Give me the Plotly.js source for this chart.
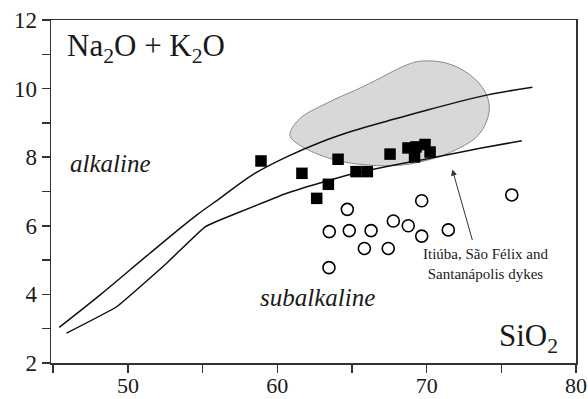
<!DOCTYPE html>
<html>
<head>
<meta charset="utf-8">
<script src="https://cdn.plot.ly/plotly-3.0.1.min.js"></script>
<style>html,body{margin:0;padding:0;background:#fff;}#chart{width:588px;height:399px;}</style>
</head>
<body>
<div id="chart"></div>
<script>
// Filled squares: Itiúba, São Félix and Santanápolis dykes samples
const squareSiO2 = [58.91, 61.65, 64.07, 63.42, 62.64, 65.27, 66.03, 67.55, 68.75, 69.29, 69.89, 69.19, 70.23];
const squareAlk  = [7.89, 7.53, 7.94, 7.21, 6.80, 7.58, 7.58, 8.09, 8.27, 8.30, 8.37, 8.01, 8.15];
// Open circles
const circleSiO2 = [64.69, 63.48, 64.82, 66.28, 67.77, 68.77, 69.67, 69.67, 71.45, 65.83, 67.43, 63.46, 75.70];
const circleAlk  = [6.48, 5.83, 5.86, 5.86, 6.14, 6.00, 6.73, 5.70, 5.88, 5.34, 5.34, 4.78, 6.90];
// Upper boundary curve
const upperSiO2 = [45.40, 48.12, 51.47, 54.60, 56.16, 58.39, 60.63, 62.86, 65.09, 67.33, 69.56, 74.03, 77.08];
const upperAlk  = [3.04, 3.98, 5.20, 6.31, 6.80, 7.50, 8.01, 8.43, 8.77, 9.05, 9.32, 9.81, 10.04];
// Lower boundary curve
const lowerSiO2 = [45.89, 49.24, 52.59, 55.16, 56.16, 58.39, 60.63, 62.86, 65.09, 67.33, 69.56, 73.58, 76.37];
const lowerAlk  = [2.87, 3.64, 4.91, 5.97, 6.17, 6.56, 6.95, 7.25, 7.52, 7.73, 7.91, 8.26, 8.48];
// Grey field outline
const fieldSiO2 = [60.85, 61.52, 63.53, 65.76, 68.67, 69.56, 71.35, 72.91, 73.91, 74.20, 73.91, 73.24, 71.68, 70.11, 68.33, 66.10, 63.87, 61.86, 60.92, 60.85];
const fieldAlk  = [8.70, 9.13, 9.62, 10.06, 10.69, 10.80, 10.74, 10.40, 9.91, 9.43, 8.94, 8.55, 8.16, 7.92, 7.77, 7.77, 7.92, 8.26, 8.56, 8.70];
// Tick labels
const xTicks = [50, 60, 70, 80];
const yTicks = [2, 4, 6, 8, 10, 12];

const serif = 'Liberation Serif';
const ink = '#1a1a1a';

const traces = [
  {x: fieldSiO2, y: fieldAlk, mode: 'lines', fill: 'toself', fillcolor: '#d8d8d8',
   line: {color: '#8a8a8a', width: 1, shape: 'spline', smoothing: 1}, hoverinfo: 'skip'},
  {x: upperSiO2, y: upperAlk, mode: 'lines', line: {color: '#111', width: 1.5, shape: 'spline', smoothing: 1}},
  {x: lowerSiO2, y: lowerAlk, mode: 'lines', line: {color: '#111', width: 1.5, shape: 'spline', smoothing: 0.3}},
  {x: squareSiO2, y: squareAlk, mode: 'markers', marker: {symbol: 'square', size: 11.5, color: '#000'}},
  {x: circleSiO2, y: circleAlk, mode: 'markers', marker: {symbol: 'circle-open', size: 12, color: '#000', line: {width: 1.6, color: '#000'}}}
];

const axisCommon = {
  showgrid: false, zeroline: false, showline: true, linecolor: '#333', linewidth: 1.5, mirror: true,
  ticks: 'outside', ticklen: 8, tickwidth: 1.5, tickcolor: '#333',
  tickfont: {family: serif, size: 23, color: ink}
};

const layout = {
  width: 588, height: 399,
  margin: {l: 51, r: 12, t: 20, b: 36},
  paper_bgcolor: '#fff', plot_bgcolor: '#fff',
  showlegend: false,
  font: {family: serif, color: ink},
  xaxis: Object.assign({}, axisCommon, {
    range: [44.85, 80], tickvals: xTicks, ticktext: xTicks.map(String), ticklabelstandoff: -6,
    tickfont: {family: serif, size: 22, color: ink},
    minor: {dtick: 5, tick0: 0, ticks: 'outside', ticklen: 8, tickwidth: 1.5, tickcolor: '#333'}
  }),
  yaxis: Object.assign({}, axisCommon, {
    range: [2, 12], tickvals: yTicks, ticktext: yTicks.map(String),
    minor: {dtick: 1, tick0: 0, ticks: 'outside', ticklen: 8, tickwidth: 1.5, tickcolor: '#333'}
  }),
  annotations: [
    {x: 45.78, y: 11.17, xref: 'x', yref: 'y', xanchor: 'left', yanchor: 'middle', showarrow: false,
     text: 'Na<sub>2</sub>O + K<sub>2</sub>O', font: {family: serif, size: 31, color: ink}},
    {x: 48.83, y: 7.83, xref: 'x', yref: 'y', xanchor: 'center', yanchor: 'middle', showarrow: false,
     text: '<i>alkaline</i>', font: {family: serif, size: 25, color: ink}},
    {x: 62.69, y: 3.92, xref: 'x', yref: 'y', xanchor: 'center', yanchor: 'middle', showarrow: false,
     text: '<i>subalkaline</i>', font: {family: serif, size: 25, color: ink}},
    {x: 76.79, y: 2.74, xref: 'x', yref: 'y', xanchor: 'center', yanchor: 'middle', showarrow: false,
     text: 'SiO<sub>2</sub>', font: {family: serif, size: 31, color: ink}},
    {x: 73.91, y: 4.89, xref: 'x', yref: 'y', xanchor: 'center', yanchor: 'middle', showarrow: false,
     text: 'Itiúba, São Félix and<br>Santanápolis dykes', font: {family: serif, size: 15, color: ink}},
    {x: 71.72, y: 7.64, xref: 'x', yref: 'y', ax: 73.09, ay: 5.54, axref: 'x', ayref: 'y',
     showarrow: true, arrowhead: 2, arrowsize: 1.2, arrowwidth: 1, arrowcolor: '#333', text: ''}
  ]
};

Plotly.newPlot('chart', traces, layout, {displayModeBar: false, staticPlot: true});
</script>
</body>
</html>
